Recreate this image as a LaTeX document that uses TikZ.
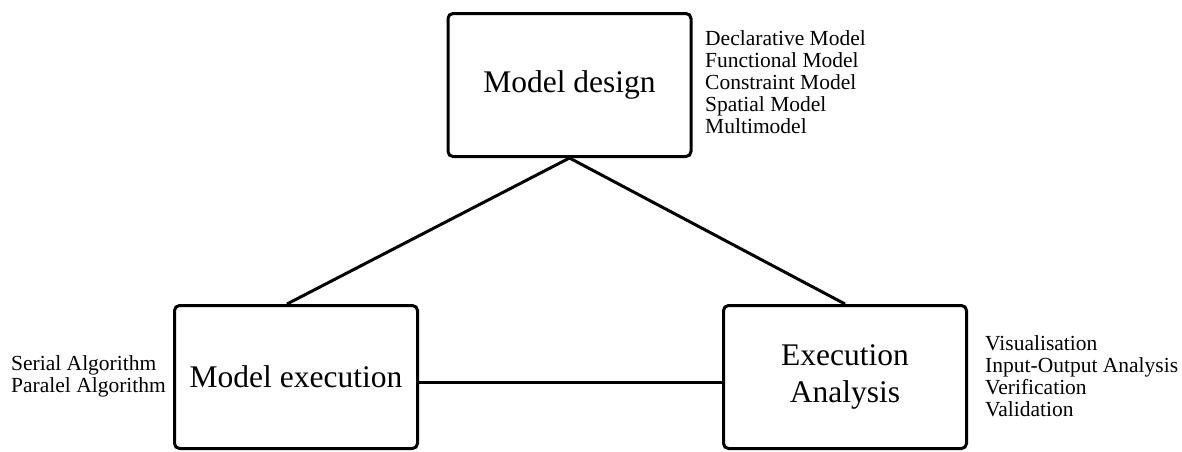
\documentclass[tikz,border=0pt]{standalone}
\usepackage{fontspec}
\setmainfont{Liberation Serif}
\usepackage{tikz}

\begin{document}
\begin{tikzpicture}[x=1pt,y=-1pt,
    stage/.style={draw,line width=3pt,rounded corners=5pt,minimum width=243pt,minimum height=143pt,align=center,font=\fontsize{31.5}{37}\selectfont},
    notes/.style={anchor=north west,align=left,inner sep=0pt,font=\fontsize{21.5}{22}\selectfont},
    link/.style={line width=3pt}]
      \useasboundingbox (0,0) rectangle (1182,451);
      \node[stage] (design) at (569.5,85) {Model design};
      \node[stage] (exec) at (296,377) {Model execution};
      \node[stage] (analysis) at (845,377) {Execution\\Analysis};
      \node[notes] (designnotes) at (705,30.5) {Declarative Model\\Functional Model\\Constraint Model\\Spatial Model\\Multimodel};
      \node[notes] (execnotes) at (11,355.5) {Serial Algorithm\\Paralel Algorithm};
      \node[notes] (analysisnotes) at (985,335.5) {Visualisation\\Input-Output Analysis\\Verification\\Validation};
      \draw[link] (design.south) -- ([xshift=-9pt]exec.north);
      \draw[link] (design.south) -- (analysis.north);
      \draw[link] ([yshift=-5pt]exec.east) -- ([yshift=-5pt]analysis.west);
    \end{tikzpicture}
\end{document}
